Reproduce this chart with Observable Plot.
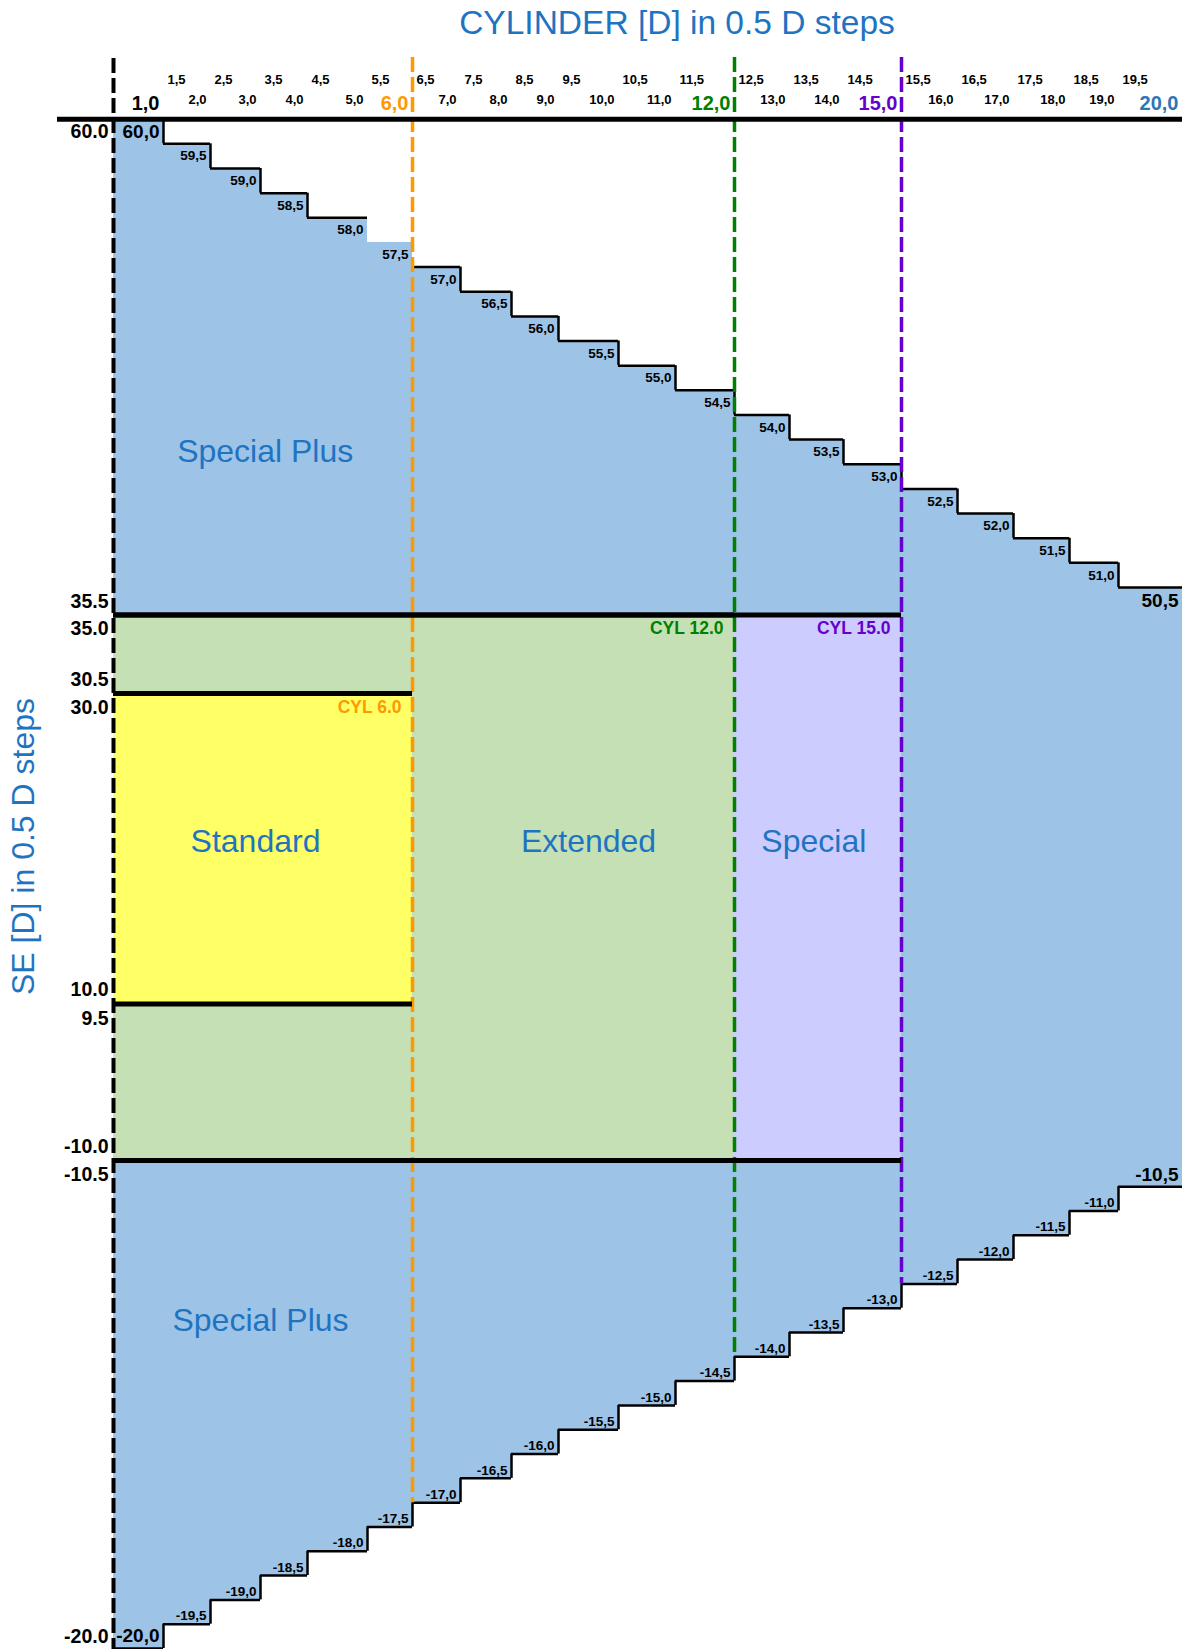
<!DOCTYPE html>
<html>
<head>
<meta charset="utf-8">
<script src="https://cdn.jsdelivr.net/npm/d3@7"></script>
<script src="https://cdn.jsdelivr.net/npm/@observablehq/plot@0.6"></script>
<style>
  body { margin: 0; background: #ffffff; font-family: "Liberation Sans", Arial, sans-serif; }
  #title { width: 1182px; height: 50px; box-sizing: border-box; padding-left: 172px; text-align: center;
           font-size: 33.5px; line-height: 46px; color: #1F74C2; white-space: nowrap; }
</style>
</head>
<body>
<div id="title">CYLINDER [D] in 0.5 D steps</div>
<div id="chart"></div>
<script>
// ---------- data ----------
const cylEdges = [0, 1, 2, 3, 4, 5, 6, 7, 8, 9, 10, 11, 12, 13, 14, 15, 16, 17, 18, 19, 20];
const seUpper  = [60.0, 59.5, 59.0, 58.5, 58.0, 57.5, 57.0, 56.5, 56.0, 55.5,
                  55.0, 54.5, 54.0, 53.5, 53.0, 52.5, 52.0, 51.5, 51.0, 50.5];
const seLower  = [-20.0, -19.5, -19.0, -18.5, -18.0, -17.5, -17.0, -16.5, -16.0, -15.5,
                  -15.0, -14.5, -14.0, -13.5, -13.0, -12.5, -12.0, -11.5, -11.0, -10.5];

const cylHalfLabels  = [1.5, 2.5, 3.5, 4.5, 5.5, 6.5, 7.5, 8.5, 9.5, 10.5, 11.5, 12.5, 13.5, 14.5, 15.5, 16.5, 17.5, 18.5, 19.5];
const cylWholeLabels = [2, 3, 4, 5, 7, 8, 9, 10, 11, 13, 14, 16, 17, 18, 19];
const cylKeyLabels   = [1, 6, 12, 15, 20];
const cylKeyColors   = ["#000000", "#FF9900", "#008000", "#6600CC", "#2E75B6"];

const seTicks = [60.0, 35.5, 35.0, 30.5, 30.0, 10.0, 9.5, -10.0, -10.5, -20.0];
const seTop = 61.5;   // SE level where the vertical guide lines begin (above the cylinder labels)

const zoneNames   = ["Extended", "Standard", "Special"];
const zoneCylFrom = [0, 0, 12];
const zoneCylTo   = [12, 6, 15];
const zoneSeMin   = [-10.0, 10.0, -10.0];
const zoneSeMax   = [35.0, 30.0, 35.0];
const zoneColors  = ["#C5E0B4", "#FFFF66", "#CCCCFF"];

const limitCyl    = [6, 12, 15];
const limitNames  = ["CYL 6.0", "CYL 12.0", "CYL 15.0"];
const limitSe     = [30.0, 35.0, 35.0];
const limitColors = ["#FF9900", "#008000", "#6600CC"];

const regionLabels   = ["Special Plus", "Standard", "Extended", "Special", "Special Plus"];
const regionLabelCyl = [3.1, 2.9, 9.5, 13.45, 3.0];
const regionLabelSe  = [53.5, 20.5, 20.5, 20.5, -13.5];

// ---------- derived tables ----------
const HALF = 0.25;                 // half of one 0.5 D row
const BLUE = "#9DC3E6";
const TEXTBLUE = "#1F74C2";
const fmtComma = v => v.toFixed(1).replace(".", ",");
const fmtDot = v => v.toFixed(1);

const steps = seUpper.map((hi, i) => ({x1: cylEdges[i], x2: cylEdges[i + 1], hi, lo: seLower[i]}));
const risers = steps.slice(0, -1).map((s, i) => ({x: s.x2, hiA: s.hi, hiB: steps[i + 1].hi, loA: s.lo, loB: steps[i + 1].lo}));
const zones = zoneNames.map((name, i) => ({name, x1: zoneCylFrom[i], x2: zoneCylTo[i], lo: zoneSeMin[i], hi: zoneSeMax[i], color: zoneColors[i]}));
const zoneEdges = zones.flatMap(z => [{y: z.hi + HALF, x2: z.x2}, {y: z.lo - HALF, x2: z.x2}]);
const limits = limitCyl.map((c, i) => ({c, name: limitNames[i], se: limitSe[i], color: limitColors[i], end: seLower[cylEdges.indexOf(c)] - HALF}));
// the reference leaves the 57,5 step of the upper staircase without its outline
const upperTops = steps.filter(s => s.hi !== 57.5);
const upperRisers = risers.filter(r => r.hiA !== 57.5 && r.hiB !== 57.5);
const endSteps = [steps[0], steps[steps.length - 1]];
const innerSteps = steps.slice(1, -1);

const bold = {fontWeight: "bold"};

const chart = Plot.plot({
  width: 1182,
  height: 1599,
  marginTop: 8,
  marginLeft: 57,
  marginRight: 0,
  marginBottom: 0,
  style: {fontFamily: "'Liberation Sans', Arial, sans-serif", background: "#ffffff", overflow: "visible"},
  x: {type: "linear", axis: null,
      domain: cylEdges,
      range: [113, 163, 210, 260, 307, 367, 412, 460, 511, 558, 618, 675, 734, 789, 843, 901, 957, 1013, 1069, 1118, 1182]},
  y: {type: "linear", axis: null,
      domain: [-20.25, -10.5, -10.0, 9.5, 10.0, 30.0, 30.5, 35.0, 35.5, 50.5, 50.75, 60.25],
      range:  [1598, 1124, 1096, 968, 939, 657, 629, 578, 551, 550, 537, 68.7]},
  color: {type: "identity"},
  marks: [
    // area inside the staircases
    Plot.rect(steps, {x1: "x1", x2: "x2", y1: d => d.lo - HALF, y2: d => d.hi + HALF, fill: BLUE}),
    // zones
    Plot.rect(zones, {x1: "x1", x2: "x2", y1: d => d.lo - HALF, y2: d => d.hi + HALF, fill: "color"}),
    // staircase outlines
    Plot.ruleY(upperTops, {x1: "x1", x2: "x2", y: d => d.hi + HALF, stroke: "#000", strokeWidth: 2.5}),
    Plot.ruleX(upperRisers, {x: "x", y1: d => d.hiA + HALF, y2: d => d.hiB + HALF, stroke: "#000", strokeWidth: 2.5}),
    Plot.ruleY(steps, {x1: "x1", x2: "x2", y: d => d.lo - HALF, stroke: "#000", strokeWidth: 2.5}),
    Plot.ruleX(risers, {x: "x", y1: d => d.loA - HALF, y2: d => d.loB - HALF, stroke: "#000", strokeWidth: 2.5}),
    // dashed vertical lines
    Plot.ruleX([cylEdges[0]], {stroke: "#000", strokeWidth: 4, strokeDasharray: "15,5"}),
    Plot.ruleX(limits, {x: "c", y1: () => seTop, y2: "end", stroke: "color", strokeWidth: 3.5, strokeDasharray: "15,5"}),
    // thick horizontal boundaries
    Plot.ruleY([seUpper[0] + HALF], {stroke: "#000", strokeWidth: 5}),
    Plot.ruleY(zoneEdges, {y: "y", x2: "x2", stroke: "#000", strokeWidth: 5}),
    // top cylinder labels
    Plot.text(cylHalfLabels, {x: d => d - 0.5, frameAnchor: "top", lineAnchor: "bottom", dy: 25, dx: 4,
      textAnchor: "start", text: fmtComma, fontSize: 13, ...bold, fill: "#000"}),
    Plot.text(cylWholeLabels, {x: d => d, frameAnchor: "top", lineAnchor: "bottom", dy: 45, dx: -4,
      textAnchor: "end", text: fmtComma, fontSize: 13, ...bold, fill: "#000"}),
    Plot.text(cylKeyLabels, {x: d => d, frameAnchor: "top", lineAnchor: "bottom", dy: 51, dx: -4,
      textAnchor: "end", text: fmtComma, fontSize: 20, ...bold, fill: (d, i) => cylKeyColors[i]}),
    // SE tick labels
    Plot.text(seTicks, {x: () => cylEdges[0], y: d => d, text: fmtDot, textAnchor: "end", dx: -5,
      fontSize: 19.5, ...bold, fill: "#000"}),
    // staircase labels
    Plot.text(innerSteps, {x: "x2", y: "hi", text: d => fmtComma(d.hi), textAnchor: "end", dx: -4,
      fontSize: 13.5, ...bold, fill: "#000"}),
    Plot.text(innerSteps, {x: "x2", y: "lo", text: d => fmtComma(d.lo), textAnchor: "end", dx: -4, dy: 4,
      fontSize: 13.5, ...bold, fill: "#000"}),
    Plot.text(endSteps, {x: "x2", y: "hi", text: d => fmtComma(d.hi), textAnchor: "end", dx: -4,
      fontSize: 19, ...bold, fill: "#000"}),
    Plot.text(endSteps, {x: "x2", y: "lo", text: d => fmtComma(d.lo), textAnchor: "end", dx: -4,
      fontSize: 19, ...bold, fill: "#000"}),
    // CYL limit tags
    Plot.text(limits, {x: "c", y: "se", text: "name", textAnchor: "end", dx: -11,
      fontSize: 17.5, ...bold, fill: "color"}),
    // region names
    Plot.text(regionLabels, {x: (d, i) => regionLabelCyl[i], y: (d, i) => regionLabelSe[i], text: d => d,
      fontSize: 32, fill: TEXTBLUE}),
    // y title
    Plot.text(["SE [D] in 0.5 D steps"], {frameAnchor: "left", textAnchor: "middle", rotate: -90, dx: -34, dy: -7.5,
      fontSize: 32, fill: TEXTBLUE})
  ]
});
document.getElementById("chart").appendChild(chart);
</script>
</body>
</html>
